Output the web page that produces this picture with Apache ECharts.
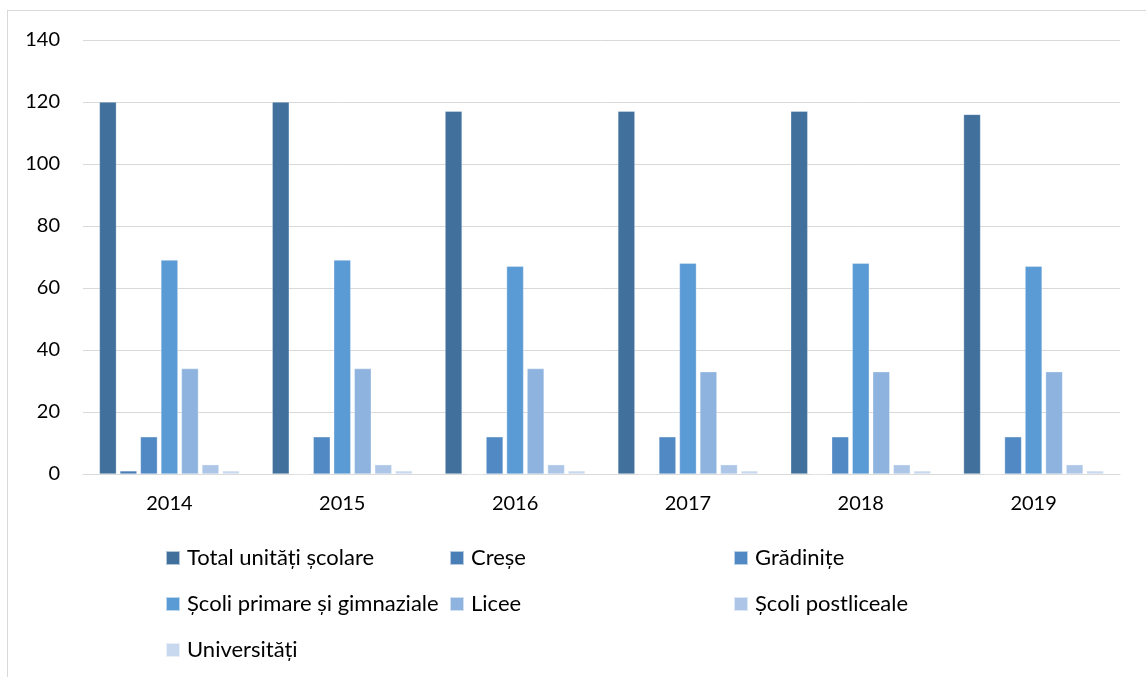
<!DOCTYPE html>
<html><head><meta charset="utf-8">
<script src="https://cdn.jsdelivr.net/npm/echarts@6/dist/echarts.min.js"></script>
<style>
html,body{margin:0;padding:0;background:#fff;}
#frame{position:absolute;left:7px;top:10px;width:1146px;height:680px;border:1px solid #d9d9d9;box-sizing:border-box;}
#c{position:absolute;left:0;top:0;width:1146px;height:677px;}
</style></head>
<body><div id="frame"></div><div id="c"></div>
<script>
var years = ['2014','2015','2016','2017','2018','2019'];
var seriesNames = ['Total unități școlare','Creșe','Grădinițe','Școli primare și gimnaziale','Licee','Școli postliceale','Universități'];
var total = [120,120,117,117,117,116];
var crese = [1,0,0,0,0,0];
var gradinite = [12,12,12,12,12,12];
var scoliPrimare = [69,69,67,68,68,67];
var licee = [34,34,34,33,33,33];
var postliceale = [3,3,3,3,3,3];
var universitati = [1,1,1,1,1,1];
var yTicks = [0,20,40,60,80,100,120,140];

var values = [total,crese,gradinite,scoliPrimare,licee,postliceale,universitati];
var colors = ['#41709C','#4A7EB6','#5089C4','#5B9BD5','#8EB3DE','#ADC6E8','#C8D8EE'];
var font = 'Lato';
var chart = echarts.init(document.getElementById('c'));
var series = values.map(function(v,i){
  return {name:seriesNames[i],type:'bar',data:v,barGap:'21%',barCategoryGap:'19%',
    itemStyle:{color:colors[i],borderColor:'rgba(255,255,255,0.6)',borderWidth:0.5}};
});
function legend(names,left){
  return {data:names,left:left,top:547,orient:'vertical',itemGap:24,itemWidth:14,itemHeight:14,
    icon:'rect',padding:0,textStyle:{fontFamily:font,fontSize:22,color:'#000',padding:[0,0,0,2]}};
}
chart.setOption({
  animation:false,
  grid:{left:83,right:26,top:40,bottom:203},
  xAxis:{type:'category',data:years,axisTick:{show:false},
    axisLine:{lineStyle:{color:'#d9d9d9',width:1}},
    axisLabel:{fontFamily:font,fontSize:20,color:'#000',margin:20}},
  yAxis:{type:'value',min:yTicks[0],max:yTicks[yTicks.length-1],interval:20,
    axisLine:{show:false},axisTick:{show:false},
    splitLine:{lineStyle:{color:'#d9d9d9',width:1}},
    axisLabel:{fontFamily:font,fontSize:20,color:'#000',margin:23}},
  legend:[legend([seriesNames[0],seriesNames[3],seriesNames[6]],165),
          legend([seriesNames[1],seriesNames[4]],449),
          legend([seriesNames[2],seriesNames[5]],733)],
  series:series
});
</script></body></html>
